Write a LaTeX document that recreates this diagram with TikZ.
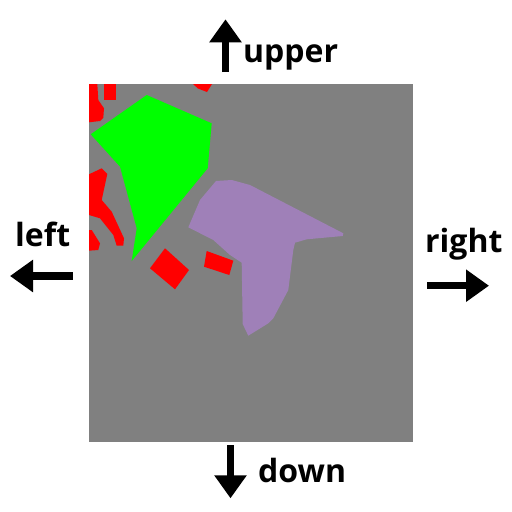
\documentclass[tikz,border=0pt]{standalone}
\usepackage{fontspec}
\setmainfont{Open Sans}
\usetikzlibrary{arrows.meta}
\definecolor{bggray}{RGB}{128,128,128}
\definecolor{lav}{RGB}{159,128,184}
\tikzset{
  lbl/.style={inner sep=0pt, anchor=base west, font=\fontsize{32}{32}\selectfont\bfseries},
  dirarrow/.style={line width=7.5pt, -{Triangle[width=31pt,length=23pt]}},
  redpart/.style={fill=red},
}
\begin{document}
\begin{tikzpicture}[x=1pt,y=-1pt]
\useasboundingbox (0,0) rectangle (512,512);
\fill[white] (0,0) rectangle (512,512);
% field
\fill[bggray] (89,84) rectangle (413,442);
% red parts
\fill[redpart] (89,84) -- (97.3,84) -- (98.3,100) -- (104,108.3) -- (103.3,117.7) -- (100,121) -- (89,122.3) -- cycle;
\fill[redpart] (104,84) rectangle (115.7,100);
\fill[redpart] (193,84) -- (212,84) -- (207,92) -- (198,88.5) -- cycle;
\fill[redpart] (101.7,168.3) -- (107.3,174) -- (101.7,200) -- (111.7,211.7) -- (124,238.3) -- (123.3,245.7) -- (116.7,245.7) -- (113.3,235) -- (100,218.3) -- (89,215) -- (89,174.3) -- cycle;
\fill[redpart] (89,230) -- (91.7,230) -- (100,243.3) -- (98.3,250) -- (89,250.7) -- cycle;
\fill[redpart] (165,248.3) -- (189,270) -- (175,289.3) -- (150,268.3) -- cycle;
\fill[redpart] (206.7,251) -- (233.3,260.7) -- (229.3,275) -- (204,266.7) -- cycle;
% green part
\fill[green] (146.7,95) -- (211.7,123.3) -- (207.7,168.3) -- (131.7,261) -- (136.7,228.3) -- (120,166.7) -- (90.7,134.3) -- cycle;
% lavender part
\fill[lav] (216,181) -- (231.7,180) -- (250,185) -- (343.3,233.3) -- (342.7,236) -- (306.7,239.3) -- (295,242.7) -- (293.3,250) -- (288.3,290) -- (273.3,318.3) -- (268.3,323.3) -- (248.3,335.7) -- (242.7,324) -- (241.7,262.7) -- (230,255) -- (213.3,240) -- (188.3,227.3) -- (200,200) -- cycle;
% direction arrows
\coordinate (u1) at (225.5,72);  \coordinate (u2) at (225.5,19.3);
\coordinate (l1) at (72.7,276);  \coordinate (l2) at (10,276);
\coordinate (r1) at (427,285.7); \coordinate (r2) at (489,285.7);
\coordinate (d1) at (230.5,445); \coordinate (d2) at (230.5,498.3);
\draw[dirarrow] (u1) -- (u2);
\draw[dirarrow] (l1) -- (l2);
\draw[dirarrow] (r1) -- (r2);
\draw[dirarrow] (d1) -- (d2);
% labels
\node[lbl] (tu) at (243,62) {upper};
\node[lbl] (tl) at (15,246.7) {left};
\node[lbl] (tr) at (425,252) {right};
\node[lbl] (td) at (258,482) {down};
\end{tikzpicture}
\end{document}
